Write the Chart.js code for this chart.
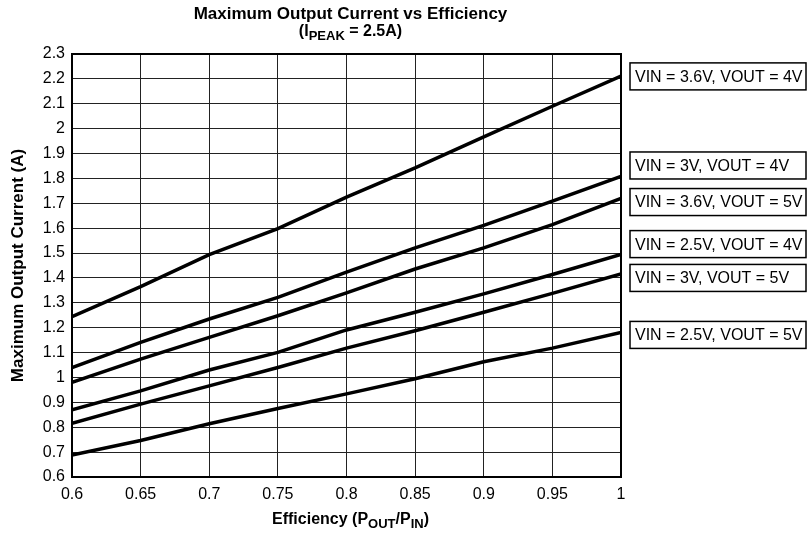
<!DOCTYPE html>
<html>
<head>
<meta charset="utf-8">
<script src="https://cdn.jsdelivr.net/npm/chart.js@4.4.1/dist/chart.umd.min.js"></script>
<style>
  html, body { margin: 0; padding: 0; background: #fff; }
  #wrap { width: 808px; height: 539px; position: relative; }
</style>
</head>
<body>
<div id="wrap"><canvas id="chart"></canvas></div>
<script>
// ================= DATA =================
const efficiency = [0.6, 0.65, 0.7, 0.75, 0.8, 0.85, 0.9, 0.95, 1.0];

const vin36_vout4 = [1.244, 1.365, 1.494, 1.598, 1.725, 1.842, 1.967, 2.090, 2.211];
const vin3_vout4 = [1.040, 1.141, 1.235, 1.322, 1.423, 1.521, 1.611, 1.709, 1.808];
const vin36_vout5 = [0.980, 1.074, 1.161, 1.248, 1.340, 1.436, 1.521, 1.614, 1.720];
const vin25_vout4 = [0.870, 0.946, 1.030, 1.101, 1.191, 1.262, 1.336, 1.414, 1.494];
const vin3_vout5 = [0.816, 0.893, 0.966, 1.040, 1.118, 1.188, 1.262, 1.338, 1.416];
const vin25_vout5 = [0.688, 0.747, 0.814, 0.875, 0.934, 0.995, 1.063, 1.118, 1.181];

const seriesNames = [
  "VIN = 3.6V, VOUT = 4V",
  "VIN = 3V, VOUT = 4V",
  "VIN = 3.6V, VOUT = 5V",
  "VIN = 2.5V, VOUT = 4V",
  "VIN = 3V, VOUT = 5V",
  "VIN = 2.5V, VOUT = 5V"
];
const seriesValues = [vin36_vout4, vin3_vout4, vin36_vout5, vin25_vout4, vin3_vout5, vin25_vout5];

// where each label box sits (y value of its centre)
const labelCentres = [2.21, 1.852, 1.705, 1.536, 1.40, 1.171];

const FONT = "'Liberation Sans', Arial, Helvetica, sans-serif";

// draw text with an optional subscript run: parts = [[text, isSub], ...]
function drawRich(ctx, parts, cx, cy, size) {
  const subSize = Math.round(size * 0.8);
  let total = 0;
  parts.forEach(p => {
    ctx.font = `bold ${p[1] ? subSize : size}px ${FONT}`;
    total += ctx.measureText(p[0]).width;
  });
  let x = cx - total / 2;
  ctx.textAlign = "left";
  ctx.textBaseline = "middle";
  parts.forEach(p => {
    ctx.font = `bold ${p[1] ? subSize : size}px ${FONT}`;
    ctx.fillText(p[0], x, p[1] ? cy + size * 0.3 : cy);
    x += ctx.measureText(p[0]).width;
  });
}

// ================= PLUGIN: frame, titles, label boxes =================
const decorations = {
  id: "decorations",
  afterDatasetsDraw(chart) {
    const ctx = chart.ctx;
    const a = chart.chartArea;
    const ys = chart.scales.y;
    ctx.save();
    ctx.fillStyle = "#000";
    ctx.strokeStyle = "#000";

    // frame
    ctx.lineWidth = 2;
    ctx.strokeRect(a.left, a.top, a.right - a.left, a.bottom - a.top);

    // titles
    const midX = (a.left + a.right) / 2 + 4;
    ctx.textAlign = "center";
    ctx.textBaseline = "middle";
    ctx.font = `bold 17px ${FONT}`;
    ctx.fillText("Maximum Output Current vs Efficiency", midX, 14);
    drawRich(ctx, [["(I", false], ["PEAK", true], [" = 2.5A)", false]], midX, 32, 16);

    drawRich(ctx, [["Efficiency (P", false], ["OUT", true], ["/P", false], ["IN", true], [")", false]], midX, 520, 16);

    ctx.save();
    ctx.translate(18, (a.top + a.bottom) / 2);
    ctx.rotate(-Math.PI / 2);
    ctx.textAlign = "center";
    ctx.font = `bold 17px ${FONT}`;
    ctx.fillText("Maximum Output Current (A)", 0, 0);
    ctx.restore();

    // label boxes
    ctx.font = `16px ${FONT}`;
    ctx.textAlign = "left";
    ctx.textBaseline = "middle";
    ctx.lineWidth = 1.5;
    seriesNames.forEach((name, i) => {
      const cy = ys.getPixelForValue(labelCentres[i]);
      const x0 = a.right + 9;
      const h = 27;
      ctx.strokeRect(x0, cy - h / 2, chart.width - 2 - x0, h);
      ctx.fillText(name, x0 + 5, cy + 1);
    });
    ctx.restore();
  }
};

// ================= CHART =================
const chart = new Chart(document.getElementById("chart").getContext("2d"), {
  type: "line",
  data: {
    datasets: seriesValues.map((vals, i) => ({
      label: seriesNames[i],
      data: vals.map((v, j) => ({ x: efficiency[j], y: v })),
      borderColor: "#000",
      borderWidth: 3.5,
      pointRadius: 0,
      tension: 0,
      fill: false
    }))
  },
  options: {
    responsive: true,
    maintainAspectRatio: false,
    animation: false,
    devicePixelRatio: 1,
    layout: { padding: { left: 0, right: 187, top: 54, bottom: 0 } },
    plugins: {
      legend: { display: false },
      title: { display: false },
      tooltip: { enabled: false }
    },
    scales: {
      x: {
        type: "linear",
        min: 0.6,
        max: 1,
        afterFit: s => { s.height = 62; },
        ticks: {
          stepSize: 0.05,
          color: "#000",
          padding: 8,
          font: { family: FONT, size: 16 },
          callback: v => String(Number(v.toFixed(2)))
        },
        grid: { color: "#222", lineWidth: 1, drawTicks: false },
        border: { display: false }
      },
      y: {
        type: "linear",
        min: 0.6,
        max: 2.3,
        afterFit: s => { s.width = 72; },
        ticks: {
          stepSize: 0.1,
          color: "#000",
          padding: 7,
          font: { family: FONT, size: 16 },
          callback: v => String(Number(v.toFixed(1)))
        },
        grid: { color: "#222", lineWidth: 1, drawTicks: false },
        border: { display: false }
      }
    }
  },
  plugins: [decorations]
});
</script>
</body>
</html>
